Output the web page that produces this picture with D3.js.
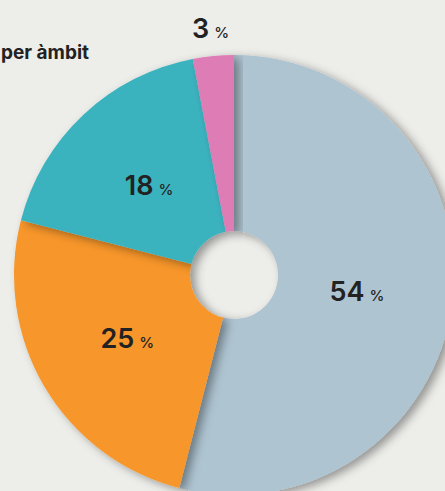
<!DOCTYPE html>
<html lang="ca">
<head>
<meta charset="UTF-8">
<title>Distribució per àmbit</title>
<style>
  html, body { margin: 0; padding: 0; background: #ededea; overflow: hidden; }
  svg { display: block; font-family: Inter, "Noto Sans", sans-serif; }
</style>
</head>
<body>
<div id="chart"></div>
<script src="https://d3js.org/d3.v7.min.js"></script>
<script>
// data
const categories = ["A", "B", "C", "D"];
const values = [54, 25, 18, 3];
const colors = ["#aec4d1", "#f7962b", "#3bb3bf", "#de7db5"];
const title = "Distribució per àmbit";

const width = 445, height = 491;
const cx = 234, cy = 275;
const outerR = 220, innerR = 44;

const svg = d3.select("#chart").append("svg")
  .attr("width", width)
  .attr("height", height);

// soft shadow that each slice casts on the next one
const defs = svg.append("defs");
const f = defs.append("filter").attr("id", "shadow")
  .attr("x", "-20%").attr("y", "-20%").attr("width", "140%").attr("height", "140%");
f.append("feDropShadow")
  .attr("dx", 5).attr("dy", 3)
  .attr("stdDeviation", 5)
  .attr("flood-color", "#000")
  .attr("flood-opacity", 0.38);

svg.append("text")
  .attr("x", 89).attr("y", 59)
  .attr("text-anchor", "end")
  .style("font-size", "19px")
  .style("font-weight", 700)
  .style("fill", "#222")
  .text(title);

const pie = d3.pie().sort(null).value(d => d)(values);
const arc = d3.arc().innerRadius(innerR).outerRadius(outerR);
const labelArc = d3.arc().innerRadius(124).outerRadius(124);
const outArc = d3.arc().innerRadius(248).outerRadius(248);

const g = svg.append("g").attr("transform", `translate(${cx},${cy})`);

g.selectAll("path.slice")
  .data(pie)
  .enter().append("path")
  .attr("class", "slice")
  .attr("d", arc)
  .attr("fill", (d, i) => colors[i])
  .attr("filter", "url(#shadow)");

const labels = g.selectAll("text.lbl")
  .data(pie)
  .enter().append("text")
  .attr("class", "lbl")
  .attr("text-anchor", "middle")
  .attr("transform", d => {
    const p = (d.data < 5 ? outArc : labelArc).centroid(d);
    return `translate(${p[0]},${p[1] + 10})`;
  })
  .style("fill", "#222");

labels.append("tspan")
  .style("font-size", "27px")
  .style("font-weight", 600)
  .text(d => d.data);
labels.append("tspan")
  .attr("dx", 5)
  .style("font-size", "15px")
  .style("font-weight", 500)
  .text("%");
</script>
</body>
</html>
